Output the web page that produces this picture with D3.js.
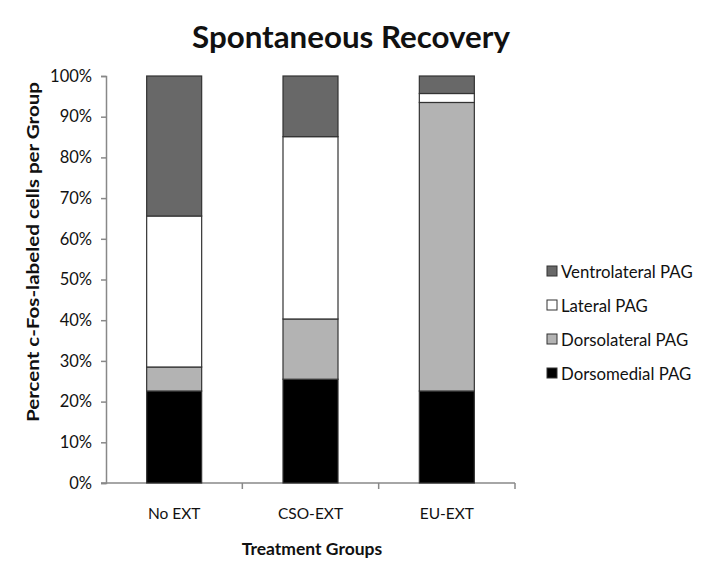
<!DOCTYPE html>
<html><head><meta charset="utf-8">
<script src="https://cdn.jsdelivr.net/npm/d3@7"></script>
<style>body{margin:0;background:#fff}svg{display:block}</style>
</head><body>
<svg id="c" width="702" height="584"></svg>
<script>
const categories = ["No EXT", "CSO-EXT", "EU-EXT"];
const seriesNames = ["Dorsomedial PAG", "Dorsolateral PAG", "Lateral PAG", "Ventrolateral PAG"];
const dorsomedial = [22.6, 25.5, 22.6];
const dorsolateral = [5.9, 14.8, 70.9];
const lateral = [37.1, 44.8, 2.2];
const ventrolateral = [34.4, 14.9, 4.3];
const yTicks = [0,10,20,30,40,50,60,70,80,90,100];
const colors = ["#000000", "#b3b3b3", "#ffffff", "#686868"];

const font = "Lato, 'Open Sans', sans-serif";
const svg = d3.select("#c");
const x0 = 106, x1 = 515, yTop = 76, yBot = 483;
const y = d3.scaleLinear().domain([0, 100]).range([yBot, yTop]);

const data = categories.map((c, i) => ({cat: c, v0: dorsomedial[i], v1: dorsolateral[i], v2: lateral[i], v3: ventrolateral[i]}));
const stack = d3.stack().keys(["v0","v1","v2","v3"])(data);

svg.append("text").attr("x", 351).attr("y", 48).attr("text-anchor", "middle")
  .attr("font-family", font).attr("font-weight", "bold").attr("font-size", 31.3).attr("fill", "#111").text("Spontaneous Recovery");

// axes
const yAxis = svg.append("g").attr("transform", `translate(${x0},0)`)
  .call(d3.axisLeft(y).tickValues(yTicks).tickFormat(d => d + "%").tickSize(5).tickPadding(9));
yAxis.select(".domain").attr("stroke", "#888").attr("stroke-width", 1.5);
yAxis.selectAll(".tick line").attr("stroke", "#888").attr("stroke-width", 1.5);
yAxis.selectAll("text").attr("font-family", font).attr("font-size", 16.5).attr("fill", "#111");

const xb = d3.scaleBand().domain(categories).range([x0, x1]);
const xg = svg.append("g").attr("transform", `translate(0,${yBot})`);
xg.append("line").attr("x1", x0 - 5).attr("x2", x1).attr("y1", 0).attr("y2", 0).attr("stroke", "#888").attr("stroke-width", 1.5);
categories.forEach((c, i) => {
  const bx = xb(c) + xb.bandwidth();
  xg.append("line").attr("x1", bx).attr("x2", bx).attr("y1", 0).attr("y2", 6).attr("stroke", "#888").attr("stroke-width", 1.5);
  xg.append("text").attr("x", xb(c) + xb.bandwidth()/2).attr("y", 36).attr("text-anchor", "middle")
    .attr("font-family", font).attr("font-size", 15.5).attr("fill", "#111").text(c);
});

// bars
const bw = 55;
stack.forEach((s, k) => {
  svg.append("g").selectAll("rect").data(s).join("rect")
    .attr("x", d => xb(d.data.cat) + xb.bandwidth()/2 - bw/2)
    .attr("width", bw)
    .attr("y", d => y(d[1]))
    .attr("height", d => y(d[0]) - y(d[1]))
    .attr("fill", colors[k]).attr("stroke", "#333").attr("stroke-width", 1.2);
});

svg.append("text").attr("x", 312).attr("y", 555).attr("text-anchor", "middle")
  .attr("font-family", font).attr("font-weight", "bold").attr("font-size", 17.5).attr("fill", "#111").text("Treatment Groups");

svg.append("text").attr("transform", "translate(32,252) rotate(-90)").attr("text-anchor", "middle")
  .attr("dominant-baseline", "central").attr("textLength", 340).attr("lengthAdjust", "spacingAndGlyphs")
  .attr("font-family", font).attr("font-weight", "bold").attr("font-size", 17).attr("fill", "#111").text("Percent c-Fos-labeled cells per Group");

// legend (top to bottom: ventrolateral ... dorsomedial)
const legendOrder = [3, 2, 1, 0];
const lg = svg.append("g");
legendOrder.forEach((k, i) => {
  const cy = 271 + i * 34;
  lg.append("rect").attr("x", 547).attr("y", cy - 5).attr("width", 10).attr("height", 10)
    .attr("fill", colors[k]).attr("stroke", "#333").attr("stroke-width", 1);
  lg.append("text").attr("x", 561).attr("y", cy).attr("dominant-baseline", "central")
    .attr("font-family", font).attr("font-size", 16.8).attr("fill", "#111").text(seriesNames[k]);
});
</script>
</body></html>
